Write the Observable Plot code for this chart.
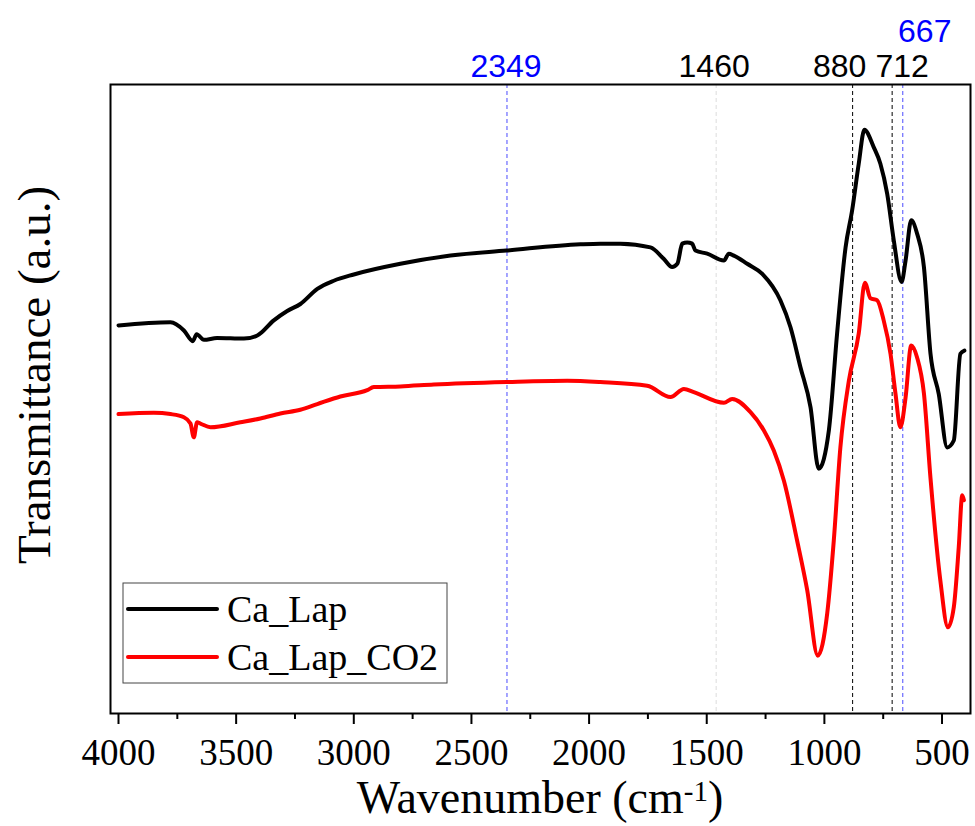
<!DOCTYPE html>
<html><head><meta charset="utf-8">
<script src="https://cdn.jsdelivr.net/npm/d3@7"></script>
<script src="https://cdn.jsdelivr.net/npm/@observablehq/plot@0.6"></script>
<style>body{margin:0;background:#fff} #chart svg{display:block}</style>
</head><body><div id="chart"></div>
<script>
// ---- data ----
const seriesNames = ["Ca_Lap", "Ca_Lap_CO2"];
const wnBlack = [4000,3779,3722,3684,3668,3637,3581,3467,3410,3340,3283,3227,3155,3085,3000,2802,2589,2351,2037,1952,1867,1739,1683,1647,1625,1604,1583,1562,1548,1498,1427,1406,1385,1328,1264,1187,1144,1102,1059,1024,981,946,910,882,854,830,790,762,733,705,672,655,631,606,577,549,514,478,450,422,405];
const tBlack = [61.7,62.2,60.9,59.2,60.3,59.4,59.7,59.6,60.1,62.5,64.0,65.1,67.5,68.8,69.8,71.5,72.8,73.6,74.6,74.7,74.7,74.1,72.3,71.0,71.5,74.7,74.9,74.7,73.6,73.1,72.0,73.1,72.8,71.5,69.9,65.7,61.4,55.1,48.7,38.9,45.0,60.4,74.1,80.0,87.4,92.8,90.0,87.4,82.6,75.2,68.6,72.0,78.4,76.3,71.0,57.2,50.8,42.3,43.4,57.2,57.7];
const wnRed = [4000,3850,3779,3722,3694,3680,3666,3652,3609,3482,3397,3312,3227,3155,3057,2943,2915,2802,2660,2351,2093,1952,1753,1654,1597,1555,1427,1392,1314,1257,1215,1172,1116,1073,1028,988,960,932,896,854,828,804,776,748,719,698,677,655,631,606,577,549,507,475,450,429,414,407];
const tRed = [47.6,47.8,47.6,47.1,46.1,43.9,46.3,46.1,45.5,46.3,46.9,47.7,48.3,49.2,50.4,51.4,51.9,52.0,52.3,52.7,52.9,52.7,52.1,50.3,51.6,51.1,49.4,50.0,47.9,45.0,41.8,37.0,27.5,19.6,9.2,15.9,27.5,42.3,52.9,60.4,68.5,66.0,65.7,62.5,57.2,50.9,45.5,50.2,58.5,56.6,50.9,37.4,21.1,13.7,16.9,26.4,34.7,33.9];
const majorTicks = [4000,3500,3000,2500,2000,1500,1000,500];
const minorTicks = [3750,3250,2750,2250,1750,1250,750];
const blueLines = [2349, 667];
const blackLines = [880, 712];
const grayLines = [1460];
const xTitle = "Wavenumber (cm";
const xTitleSup = "-1";
const yTitle = "Transmittance (a.u.)";

// ---- build ----
const rows = [
  ...wnBlack.map((w, i) => ({wn: w, t: tBlack[i], s: seriesNames[0]})),
  ...wnRed.map((w, i) => ({wn: w, t: tRed[i], s: seriesNames[1]}))
];
const serif = "'Liberation Serif','Times New Roman',serif";
const sans = "'Liberation Sans',Arial,sans-serif";

function peakLabel(wn, color, dx, dy) {
  return Plot.text([wn], {x: d => d, text: d => String(d), frameAnchor: "top", lineAnchor: "bottom",
    dx, dy, fill: color, fontSize: 32, fontFamily: sans});
}

const plot = Plot.plot({
  width: 975, height: 826,
  marginLeft: 110, marginRight: 5, marginTop: 84, marginBottom: 113,
  style: {fontFamily: serif, background: "white", overflow: "visible", color: "black"},
  x: {domain: [4034, 379], axis: null},
  y: {domain: [0, 100], axis: null},
  color: {domain: seriesNames, range: ["black", "red"]},
  marks: [
    Plot.ruleX(grayLines, {stroke: "#dcdcdc", strokeDasharray: "4,3", strokeWidth: 1}),
    Plot.ruleX(blueLines, {stroke: "#6a6aff", strokeDasharray: "4,3", strokeWidth: 1.2}),
    Plot.ruleX(blackLines, {stroke: "#000", strokeDasharray: "4,3", strokeWidth: 1}),
    Plot.line(rows, {x: "wn", y: "t", z: "s", stroke: "s", curve: "monotone-x", strokeWidth: 4}),
    Plot.frame({stroke: "black", strokeWidth: 2}),
    Plot.axisX({ticks: majorTicks, tickSize: 11, tickPadding: 14, tickFormat: d => String(d),
      fontSize: 37, fontFamily: serif, strokeWidth: 2, label: null}),
    Plot.axisX({ticks: minorTicks, tickSize: 6, tickFormat: () => "", strokeWidth: 2, label: null}),
    peakLabel(blueLines[0], "#0000ff", -1, -8),
    peakLabel(grayLines[0], "#000", -2, -8),
    peakLabel(blackLines[0], "#000", -13, -8),
    peakLabel(blackLines[1], "#000", 10, -8),
    peakLabel(blueLines[1], "#0000ff", 22, -43)
  ]
});

const svg = d3.select(plot);
// force serif font on the axis tick labels
svg.selectAll('g[aria-label="x-axis tick label"]')
  .attr("font-family", null)
  .style("font-family", serif).style("font-size", "37px");
svg.selectAll('g[aria-label="x-axis tick label"] text')
  .style("font-family", serif);

// y title
svg.append("text")
  .attr("transform", "translate(50,375) rotate(-90)")
  .attr("text-anchor", "middle")
  .attr("fill", "black")
  .style("font-family", serif).style("font-size", "47px")
  .text(yTitle);
// x title with superscript
const xt = svg.append("text")
  .attr("x", 540).attr("y", 813)
  .attr("text-anchor", "middle")
  .attr("fill", "black")
  .style("font-family", serif).style("font-size", "46px");
xt.append("tspan").text(xTitle);
xt.append("tspan").attr("dy", -12).style("font-size", "29px").text(xTitleSup);
xt.append("tspan").attr("dy", 12).text(")");

// legend
const lg = svg.append("g");
lg.append("rect").attr("x", 123).attr("y", 583).attr("width", 324).attr("height", 100)
  .attr("fill", "white").attr("stroke", "#444").attr("stroke-width", 1);
const legendColors = ["black", "red"];
seriesNames.forEach((name, i) => {
  const yy = 609 + i * 48;
  lg.append("line").attr("x1", 128).attr("x2", 217).attr("y1", yy).attr("y2", yy)
    .attr("stroke", legendColors[i]).attr("stroke-width", 4).attr("stroke-linecap", "round");
  lg.append("text").attr("x", 227).attr("y", yy + 13)
    .attr("text-anchor", "start")
    .attr("fill", "black")
    .style("font-family", serif).style("font-size", "38px")
    .text(name);
});

document.getElementById("chart").appendChild(plot);
</script>
</body></html>
